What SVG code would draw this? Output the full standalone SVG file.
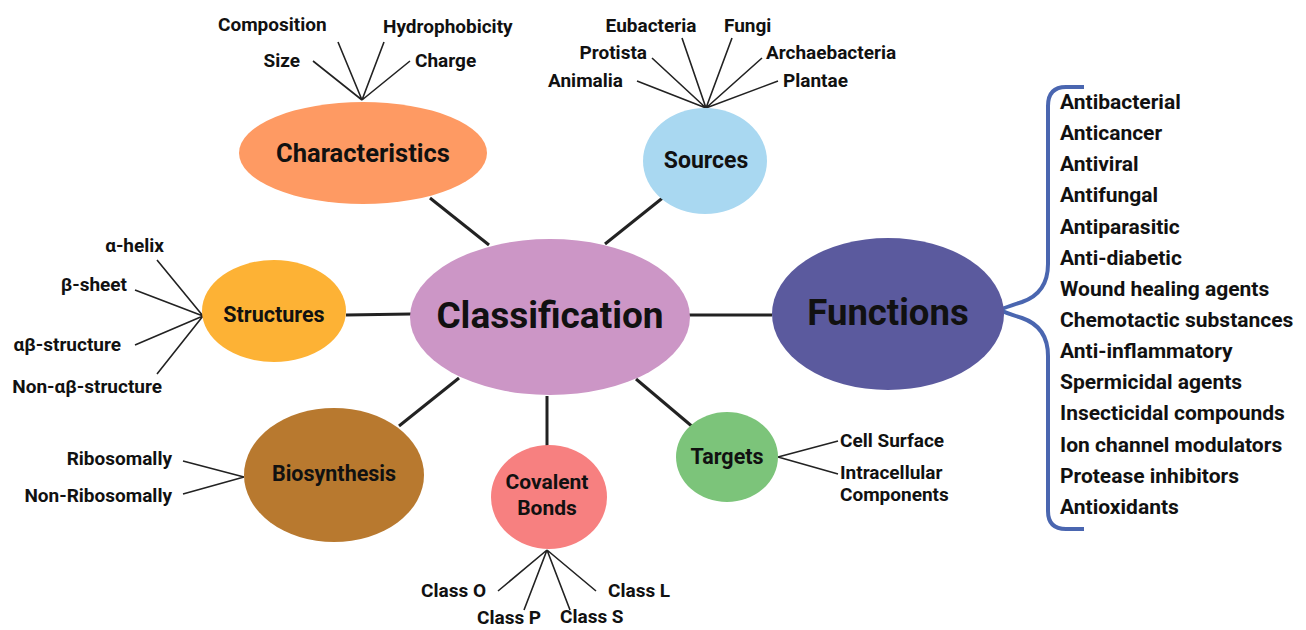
<svg xmlns="http://www.w3.org/2000/svg" width="1306" height="630" viewBox="0 0 1306 630">
<style>
text{font-family:Roboto,"Liberation Sans",Arial,sans-serif;font-weight:bold;fill:#111}
.leaf{font-size:19px}
.node{font-size:21.5px;text-anchor:middle}
.fn{font-size:21px}
.thin{stroke:#222;stroke-width:1.6;fill:none}
.main{stroke:#222;stroke-width:3;fill:none}
</style>
<rect width="1306" height="630" fill="#fff"/>
<g id="connectors">
  <line class="main" x1="430" y1="198" x2="489" y2="245"/>
  <line class="main" x1="665" y1="196" x2="605" y2="244"/>
  <line class="main" x1="346" y1="315" x2="411" y2="314"/>
  <line class="main" x1="689" y1="315" x2="772" y2="315"/>
  <line class="main" x1="399" y1="426" x2="459" y2="378"/>
  <line class="main" x1="547" y1="396" x2="547" y2="446"/>
  <line class="main" x1="636" y1="379" x2="694" y2="428"/>
  <path class="thin" d="M362,100 L313,61 M362,100 L338,42 M362,100 L384,42 M362,100 L410,61"/>
  <path class="thin" d="M706,108 L637,81 M706,108 L652,58 M706,108 L682,38 M706,108 L732,38 M706,108 L762,58 M706,108 L778,81"/>
  <path class="thin" d="M203,316 L157,260 M203,316 L135,290 M203,316 L135,345 M203,316 L157,374"/>
  <path class="thin" d="M244,477 L183,461 M244,477 L183,494"/>
  <path class="thin" d="M547,550 L498,591 M547,550 L524,610 M547,550 L570,610 M547,550 L596,591"/>
  <path class="thin" d="M778,457 L838,441 M778,457 L838,474"/>
  <path d="M1084,87 L1066,87 Q1048,87 1048,106 L1048,264 Q1048,293 1022,302 Q1006,307 1000,310 Q1006,313 1022,318 Q1048,327 1048,356 L1048,511 Q1048,529 1066,529 L1084,529" fill="none" stroke="#4A66B0" stroke-width="4"/>
</g>
<g id="characteristics">
  <ellipse cx="363" cy="153" rx="124" ry="51" fill="#FE9A63"/>
  <text class="node" x="363" y="162" style="font-size:25.5px">Characteristics</text>
  <text class="leaf" x="218" y="31">Composition</text>
  <text class="leaf" x="383" y="33">Hydrophobicity</text>
  <text class="leaf" x="300" y="67" text-anchor="end">Size</text>
  <text class="leaf" x="415" y="67">Charge</text>
</g>
<g id="sources">
  <ellipse cx="705" cy="161" rx="62" ry="53" fill="#A9D8F1"/>
  <text class="node" x="706" y="168" style="font-size:23px">Sources</text>
  <text class="leaf" x="623" y="87" text-anchor="end">Animalia</text>
  <text class="leaf" x="647" y="59" text-anchor="end">Protista</text>
  <text class="leaf" x="651" y="32" text-anchor="middle">Eubacteria</text>
  <text class="leaf" x="724" y="32">Fungi</text>
  <text class="leaf" x="766" y="59">Archaebacteria</text>
  <text class="leaf" x="783" y="87">Plantae</text>
</g>
<g id="structures">
  <ellipse cx="274" cy="311" rx="72" ry="51" fill="#FDB235"/>
  <text class="node" x="274" y="322">Structures</text>
  <text class="leaf" x="164" y="252" text-anchor="end">α-helix</text>
  <text class="leaf" x="127" y="291" text-anchor="end">β-sheet</text>
  <text class="leaf" x="121" y="351" text-anchor="end">αβ-structure</text>
  <text class="leaf" x="162" y="393" text-anchor="end">Non-αβ-structure</text>
</g>
<g id="classification">
  <ellipse cx="550" cy="317" rx="140" ry="78" fill="#CC96C6"/>
  <text class="node" x="550" y="328" style="font-size:37px">Classification</text>
</g>
<g id="functions">
  <ellipse cx="888" cy="314" rx="116" ry="76" fill="#5B5A9E"/>
  <text class="node" x="888" y="325" style="font-size:36.5px">Functions</text>
  <text class="fn" x="1060" y="109">Antibacterial</text>
  <text class="fn" x="1060" y="140">Anticancer</text>
  <text class="fn" x="1060" y="171">Antiviral</text>
  <text class="fn" x="1060" y="202">Antifungal</text>
  <text class="fn" x="1060" y="234">Antiparasitic</text>
  <text class="fn" x="1060" y="265">Anti-diabetic</text>
  <text class="fn" x="1060" y="296">Wound healing agents</text>
  <text class="fn" x="1060" y="327">Chemotactic substances</text>
  <text class="fn" x="1060" y="358">Anti-inflammatory</text>
  <text class="fn" x="1060" y="389">Spermicidal agents</text>
  <text class="fn" x="1060" y="420">Insecticidal compounds</text>
  <text class="fn" x="1060" y="452">Ion channel modulators</text>
  <text class="fn" x="1060" y="483">Protease inhibitors</text>
  <text class="fn" x="1060" y="514">Antioxidants</text>
</g>
<g id="biosynthesis">
  <ellipse cx="334" cy="475" rx="90" ry="67" fill="#B8792F"/>
  <text class="node" x="334" y="481">Biosynthesis</text>
  <text class="leaf" x="172" y="465" text-anchor="end">Ribosomally</text>
  <text class="leaf" x="172" y="502" text-anchor="end">Non-Ribosomally</text>
</g>
<g id="covalent">
  <ellipse cx="549" cy="497" rx="58" ry="52" fill="#F78080"/>
  <text class="node" x="547" y="489" style="font-size:21px">Covalent</text>
  <text class="node" x="547" y="515" style="font-size:21px">Bonds</text>
  <text class="leaf" x="486" y="597" text-anchor="end">Class O</text>
  <text class="leaf" x="477" y="624">Class P</text>
  <text class="leaf" x="560" y="623">Class S</text>
  <text class="leaf" x="608" y="597">Class L</text>
</g>
<g id="targets">
  <ellipse cx="727" cy="457" rx="51" ry="45" fill="#7CC47A"/>
  <text class="node" x="727" y="464">Targets</text>
  <text class="leaf" x="840" y="447">Cell Surface</text>
  <text class="leaf" x="840" y="479">Intracellular</text>
  <text class="leaf" x="840" y="501">Components</text>
</g>
</svg>
